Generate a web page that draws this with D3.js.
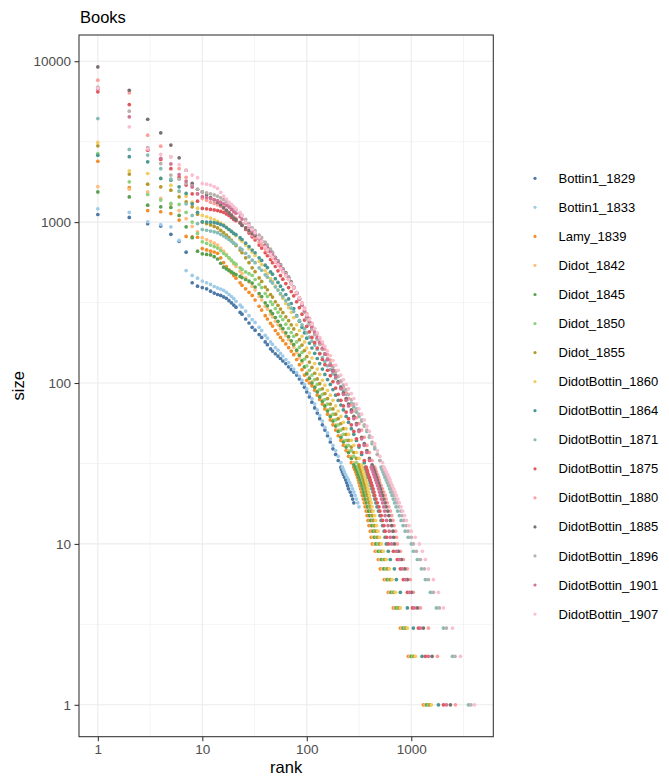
<!DOCTYPE html>
<html>
<head>
<meta charset="utf-8">
<script src="https://cdn.jsdelivr.net/npm/d3@7"></script>
<style>
body { margin: 0; background: #fff; }
svg text { font-family: "Liberation Sans", Arial, sans-serif; }
</style>
</head>
<body>
<svg id="chart" width="669" height="778"></svg>
<script>
// Series names and colours (tableau 20)
var names = ['Bottin1_1829', 'Bottin1_1833', 'Lamy_1839', 'Didot_1842', 'Didot_1845',
    'Didot_1850', 'Didot_1855', 'DidotBottin_1860', 'DidotBottin_1864', 'DidotBottin_1871',
    'DidotBottin_1875', 'DidotBottin_1880', 'DidotBottin_1885', 'DidotBottin_1896',
    'DidotBottin_1901', 'DidotBottin_1907']
var colors = ['#4E79A7', '#A0CBE8', '#F28E2B', '#FFBE7D', '#59A14F', '#8CD17D', '#B6992D',
    '#F1CE63', '#499894', '#86BCB6', '#E15759', '#FF9D9A', '#79706E', '#BAB0AC',
    '#D37295', '#FABFD2']

// ranks at which the body sizes are read
var ranks = [1, 2, 3, 4, 5, 6, 7, 8, 9, 10,
    11, 12, 13, 14, 15, 16, 17, 18, 19, 20,
    21, 23, 24, 26, 28, 30, 32, 35, 37, 40,
    42, 45, 47, 50, 53, 56, 59, 63, 67, 71,
    75, 80, 85, 90, 95, 100, 106, 112, 119, 126,
    133, 141, 149, 158, 168, 178, 189, 200, 212, 224,
    238, 251, 267, 282, 299, 316, 335, 355, 376, 398,
    422, 447, 474, 501, 532, 562, 596, 631]
// the tail: first rank reaching each integer size from 30 down
var tailSizes = [30, 29, 28, 27, 26, 25, 24, 23, 22, 21, 20, 19, 18, 17, 16,
    15, 14, 13, 12, 11, 10, 9, 8, 7, 6, 5, 4, 3, 2, 1]

var bottin1829 = [1115, 1070, 977, 945, 840, 760, 650, 420, 400, 392,
    385, 372, 362, 355, 350, 343, 336, 325, 315, 305,
    296, 275, 268, 250, 236, 222, 213, 200, 192, 180,
    173, 163, 158, 152, 147, 142, 137, 132, 126, 121,
    117, 112, 106, 100, 94, 88, 82, 76, 70, 65,
    60, 55, 51, 47, 43, 39, 36, 33]
var bottin1829Tail = [212, 215, 219, 224, 230, 236, 241, 246, 251, 260, 268, 275, 282]

var bottin1833 = [1210, 1150, 1005, 965, 935, 770, 500, 466, 448, 430,
    420, 410, 398, 390, 384, 377, 366, 355, 345, 335,
    322, 305, 296, 280, 262, 248, 238, 222, 212, 198,
    190, 180, 174, 166, 160, 153, 147, 140, 134, 128,
    122, 116, 110, 104, 98, 92, 86, 80, 74, 68,
    63, 58, 53, 49, 45, 41, 38, 35, 32]
var bottin1833Tail = [219, 224, 229, 235, 242, 251, 258, 266, 274, 282, 290, 299, 307, 316]

var lamy1839 = [2390, 1640, 1180, 1160, 1130, 1030, 815, 810, 805, 685,
    672, 660, 652, 640, 600, 560, 530, 505, 485, 465,
    448, 420, 405, 385, 366, 350, 328, 300, 284, 262,
    250, 235, 226, 212, 202, 192, 184, 175, 166, 158,
    150, 140, 130, 121, 112, 104, 100, 96, 90, 84,
    79, 74, 69, 64, 59, 55, 51, 47, 44, 41,
    38, 35, 32]
var lamy1839Tail = [282, 288, 294, 300, 306, 312, 316, 322, 328, 334, 340, 347, 355, 362, 370,
    378, 386, 394, 405, 414, 424, 453, 484, 505, 552, 603, 674, 786, 938, 1306]

var didot1842 = [1660, 1600, 1540, 1403, 1290, 1180, 1050, 940, 870, 800,
    780, 760, 740, 720, 690, 660, 630, 600, 575, 550,
    530, 495, 478, 450, 424, 400, 378, 345, 328, 300,
    288, 268, 258, 242, 230, 218, 208, 197, 186, 176,
    167, 155, 144, 134, 125, 116, 109, 102, 95, 89,
    83, 78, 73, 68, 63, 59, 55, 51, 47, 44,
    41, 38, 35, 32]
var didot1842Tail = [294, 300, 306, 311, 316, 322, 328, 334, 340, 347, 355, 362, 370, 378, 387,
    398, 406, 414, 422, 431, 441, 469, 501, 526, 571, 622, 695, 811, 967, 1353]

var didot1845 = [1540, 1435, 1275, 1245, 1234, 1100, 935, 800, 660, 635,
    630, 625, 610, 590, 555, 525, 512, 500, 490, 480,
    472, 460, 452, 440, 430, 418, 395, 360, 345, 315,
    302, 280, 270, 255, 242, 228, 218, 205, 194, 183,
    173, 160, 149, 138, 126, 114, 107, 100, 94, 88,
    82, 77, 72, 67, 62, 58, 54, 50, 46, 43,
    40, 37, 34, 31]
var didot1845Tail = [292, 298, 305, 310, 316, 323, 330, 337, 344, 350, 355, 363, 372, 381, 390,
    398, 410, 420, 432, 445, 459, 486, 519, 547, 590, 642, 717, 836, 998, 1402]

var didot1850 = [2670, 1780, 1485, 1370, 1306, 1288, 1150, 1000, 850, 755,
    738, 720, 705, 690, 665, 640, 620, 600, 580, 560,
    548, 520, 508, 490, 478, 466, 440, 410, 392, 360,
    345, 320, 308, 290, 275, 260, 248, 232, 219, 206,
    195, 180, 167, 155, 141, 128, 120, 112, 105, 98,
    91, 85, 79, 74, 69, 64, 59, 55, 51, 48,
    44, 41, 38, 35, 32]
var didot1850Tail = [310, 316, 323, 330, 337, 344, 350, 355, 362, 370, 378, 386, 392, 398, 408,
    418, 428, 438, 447, 462, 477, 503, 538, 569, 610, 662, 739, 863, 1029, 1452]

var didot1855 = [2980, 1990, 1720, 1656, 1580, 1436, 1337, 1245, 1120, 1000,
    980, 960, 940, 920, 890, 860, 830, 800, 770, 740,
    715, 670, 645, 600, 560, 520, 492, 450, 428, 395,
    380, 355, 342, 320, 304, 288, 274, 258, 244, 230,
    217, 200, 186, 172, 159, 146, 135, 125, 115, 106,
    99, 92, 86, 80, 74, 69, 64, 60, 56, 52,
    48, 44, 40, 37, 34, 31]
var didot1855Tail = [322, 328, 334, 340, 346, 351, 355, 362, 369, 376, 383, 390, 398, 406, 415,
    424, 435, 447, 458, 476, 497, 521, 557, 593, 630, 683, 762, 890, 1061, 1504]

var db1860 = [3130, 2080, 2005, 1868, 1697, 1542, 1450, 1330, 1220, 1100,
    1080, 1060, 1035, 1010, 985, 960, 930, 900, 875, 850,
    825, 780, 760, 720, 685, 650, 620, 570, 545, 500,
    478, 445, 428, 400, 378, 355, 336, 312, 294, 275,
    255, 230, 212, 195, 180, 165, 154, 143, 132, 122,
    113, 104, 97, 90, 84, 78, 72, 67, 62, 57,
    52, 48, 44, 41, 37, 34, 31]
var db1860Tail = [340, 345, 350, 355, 362, 368, 374, 380, 386, 392, 398, 406, 414, 422, 432,
    447, 456, 466, 480, 498, 517, 540, 577, 617, 655, 704, 786, 918, 1095, 1559]

var db1864 = [2600, 2550, 2370, 1868, 1823, 1656, 1507, 1300, 1150, 1004,
    1002, 1000, 992, 985, 968, 950, 925, 900, 875, 850,
    835, 800, 780, 740, 705, 670, 645, 600, 578, 540,
    522, 490, 475, 445, 422, 400, 380, 355, 333, 312,
    290, 262, 242, 222, 205, 190, 177, 165, 153, 142,
    132, 122, 113, 105, 98, 91, 84, 78, 73, 68,
    62, 57, 52, 48, 44, 40, 36, 32]
var db1864Tail = [365, 370, 376, 382, 388, 398, 405, 412, 420, 430, 440, 447, 458, 470, 485,
    501, 515, 532, 550, 562, 577, 603, 630, 689, 720, 786, 918, 1047, 1269, 1819]

var db1871 = [4400, 2830, 2610, 2150, 1850, 1560, 1300, 1100, 980, 900,
    890, 880, 870, 860, 840, 820, 800, 780, 760, 740,
    725, 690, 675, 640, 610, 580, 560, 520, 502, 470,
    455, 430, 418, 395, 378, 360, 344, 325, 308, 292,
    278, 260, 245, 230, 217, 205, 193, 182, 172, 162,
    153, 144, 136, 128, 121, 114, 107, 101, 95, 90,
    85, 80, 75, 71, 66, 62, 58, 54, 50, 46,
    42, 39, 36, 33]
var db1871Tail = [515, 525, 536, 548, 560, 575, 590, 605, 620, 636, 655, 672, 692, 715, 740,
    770, 800, 835, 875, 935, 1002, 1047, 1144, 1250, 1365, 1525, 1741, 2032, 2478, 3528]

var db1875 = [6450, 5380, 2800, 2450, 2150, 1900, 1700, 1500, 1350, 1217,
    1210, 1200, 1190, 1180, 1165, 1150, 1125, 1100, 1070, 1040,
    1020, 990, 955, 900, 855, 810, 775, 720, 690, 645,
    618, 585, 560, 530, 498, 465, 442, 415, 392, 370,
    348, 320, 294, 268, 246, 225, 208, 192, 178, 165,
    152, 140, 130, 120, 111, 102, 93, 85, 78, 72,
    66, 60, 55, 50, 45, 41, 37, 33]
var db1875Tail = [370, 376, 382, 388, 398, 405, 414, 422, 432, 440, 447, 460, 474, 490, 501,
    515, 532, 548, 562, 582, 603, 674, 736, 786, 840, 918, 1024, 1170, 1365, 2032]

var db1880 = [7620, 6360, 3470, 2965, 2545, 2150, 1900, 1700, 1500, 1400,
    1365, 1330, 1305, 1280, 1250, 1220, 1185, 1150, 1115, 1080,
    1055, 1000, 975, 920, 875, 830, 800, 750, 722, 680,
    658, 620, 600, 565, 540, 515, 492, 465, 440, 415,
    392, 365, 340, 315, 292, 270, 252, 235, 218, 203,
    189, 175, 162, 150, 139, 128, 119, 110, 102, 94,
    87, 80, 73, 67, 61, 56, 51, 46, 41, 37,
    33]
var db1880Tail = [447, 455, 464, 474, 485, 494, 501, 515, 530, 546, 562, 575, 590, 610, 631,
    650, 668, 685, 708, 722, 736, 786, 840, 918, 980, 1047, 1223, 1459, 1780, 2648]

var db1885 = [9220, 6600, 4360, 3590, 3010, 2510, 2100, 1740, 1600, 1540,
    1480, 1420, 1375, 1330, 1280, 1230, 1185, 1140, 1100, 1060,
    1035, 990, 955, 920, 885, 850, 825, 790, 760, 720,
    695, 660, 635, 605, 575, 545, 515, 485, 455, 425,
    395, 365, 335, 305, 280, 255, 237, 220, 205, 190,
    176, 163, 151, 140, 130, 120, 111, 102, 94, 87,
    80, 74, 68, 62, 56, 51, 46, 42, 38, 34,
    31]
var db1885Tail = [430, 438, 447, 455, 464, 474, 485, 496, 508, 520, 532, 545, 562, 575, 596,
    610, 631, 650, 668, 678, 689, 752, 804, 868, 918, 1002, 1144, 1306, 1583, 2371]

var db1896 = [6900, 4890, 2910, 2310, 1960, 1850, 1740, 1680, 1600, 1540,
    1520, 1500, 1475, 1450, 1415, 1380, 1340, 1300, 1260, 1220,
    1190, 1130, 1100, 1040, 980, 920, 885, 830, 800, 750,
    722, 680, 650, 600, 570, 540, 512, 480, 450, 420,
    392, 360, 335, 305, 275, 250, 232, 215, 200, 186,
    174, 162, 152, 142, 133, 125, 117, 110, 103, 97,
    91, 85, 79, 74, 69, 64, 59, 55, 51, 47,
    43, 40, 36, 33]
var db1896Tail = [532, 545, 556, 568, 585, 600, 615, 631, 648, 668, 688, 708, 730, 760, 794,
    820, 850, 891, 935, 1000, 1047, 1119, 1223, 1335, 1459, 1629, 1860, 2171, 2618, 3727]

var db1901 = [6700, 4510, 2840, 2490, 2300, 1977, 1800, 1650, 1500, 1440,
    1420, 1400, 1380, 1360, 1330, 1300, 1270, 1240, 1200, 1160,
    1135, 1080, 1045, 990, 935, 880, 845, 790, 760, 710,
    685, 645, 622, 590, 560, 530, 502, 470, 442, 415,
    390, 360, 332, 305, 282, 260, 242, 225, 208, 193,
    179, 165, 152, 140, 129, 118, 109, 100, 92, 85,
    78, 72, 66, 60, 55, 50, 45, 41, 37, 33]
var db1901Tail = [415, 422, 430, 438, 447, 456, 466, 476, 486, 496, 506, 518, 532, 545, 556,
    562, 580, 600, 615, 630, 645, 720, 769, 821, 878, 959, 1071, 1223, 1459, 2171]

var db1907 = [6800, 3910, 2850, 2640, 2545, 2275, 2100, 1960, 1890, 1740,
    1720, 1700, 1660, 1620, 1530, 1450, 1390, 1330, 1290, 1250,
    1210, 1150, 1100, 1000, 950, 900, 860, 800, 760, 700,
    672, 630, 605, 570, 542, 515, 492, 465, 440, 415,
    392, 365, 338, 312, 288, 265, 248, 232, 218, 205,
    192, 180, 169, 158, 148, 138, 129, 120, 112, 105,
    98, 92, 86, 80, 74, 69, 64, 59, 54, 50,
    46, 42, 38, 35, 32]
var db1907Tail = [550, 562, 578, 594, 610, 626, 640, 660, 680, 700, 720, 745, 770, 800, 830,
    865, 900, 950, 1000, 1090, 1196, 1278, 1365, 1459, 1629, 1819, 2032, 2478, 2957, 4027]

var series = [[bottin1829, bottin1829Tail], [bottin1833, bottin1833Tail],
    [lamy1839, lamy1839Tail], [didot1842, didot1842Tail], [didot1845, didot1845Tail],
    [didot1850, didot1850Tail], [didot1855, didot1855Tail], [db1860, db1860Tail],
    [db1864, db1864Tail], [db1871, db1871Tail], [db1875, db1875Tail], [db1880, db1880Tail],
    [db1885, db1885Tail], [db1896, db1896Tail], [db1901, db1901Tail], [db1907, db1907Tail]]

var xTicks = [1, 10, 100, 1000]
var yTicks = [1, 10, 100, 1000, 10000]

// Flatten into (rank, size) points
var points = []
series.forEach(function(s, i){
    s[0].forEach(function(v, j){ points.push({rank: ranks[j], size: v, k: i}) })
    s[1].forEach(function(r, j){ points.push({rank: r, size: tailSizes[j], k: i}) })
})

// ggplot style 5% expansion in log space
function logExpand(ext){
    var a = Math.log10(ext[0]), b = Math.log10(ext[1]), d = (b - a) * 0.05
    return [Math.pow(10, a - d), Math.pow(10, b + d)]
}

var panel = {left: 79, top: 35, right: 493.3, bottom: 736.7}
var x = d3.scaleLog()
    .domain(logExpand(d3.extent(points, function(d){ return d.rank })))
    .range([panel.left, panel.right])
var y = d3.scaleLog()
    .domain(logExpand(d3.extent(points, function(d){ return d.size })))
    .range([panel.bottom, panel.top])

var svg = d3.select('#chart')

// Grid: minor lines halfway between decades, then major
var minor = [Math.sqrt(10), Math.sqrt(1000), Math.sqrt(100000), Math.sqrt(10000000)]
var grid = svg.append('g')
grid.selectAll('.xminor').data(minor.filter(function(v){ return x(v) < panel.right }))
    .enter().append('line')
    .attr('x1', function(d){ return x(d) }).attr('x2', function(d){ return x(d) })
    .attr('y1', panel.top).attr('y2', panel.bottom)
    .attr('stroke', '#EBEBEB').attr('stroke-width', 0.55)
grid.selectAll('.yminor').data(minor.filter(function(v){ return y(v) > panel.top }))
    .enter().append('line')
    .attr('y1', function(d){ return y(d) }).attr('y2', function(d){ return y(d) })
    .attr('x1', panel.left).attr('x2', panel.right)
    .attr('stroke', '#EBEBEB').attr('stroke-width', 0.55)
grid.selectAll('.xmajor').data(xTicks).enter().append('line')
    .attr('x1', function(d){ return x(d) }).attr('x2', function(d){ return x(d) })
    .attr('y1', panel.top).attr('y2', panel.bottom)
    .attr('stroke', '#EBEBEB').attr('stroke-width', 1.1)
grid.selectAll('.ymajor').data(yTicks).enter().append('line')
    .attr('y1', function(d){ return y(d) }).attr('y2', function(d){ return y(d) })
    .attr('x1', panel.left).attr('x2', panel.right)
    .attr('stroke', '#EBEBEB').attr('stroke-width', 1.1)

// Points
svg.append('g').selectAll('circle').data(points).enter().append('circle')
    .attr('cx', function(d){ return x(d.rank) })
    .attr('cy', function(d){ return y(d.size) })
    .attr('r', 1.85)
    .attr('fill', function(d){ return colors[d.k] })

// Panel border
svg.append('rect')
    .attr('x', panel.left).attr('y', panel.top)
    .attr('width', panel.right - panel.left).attr('height', panel.bottom - panel.top)
    .attr('fill', 'none').attr('stroke', '#333333').attr('stroke-width', 1.07)

// Axes
var xAxis = svg.append('g')
    .attr('transform', 'translate(0,' + panel.bottom + ')')
    .call(d3.axisBottom(x).tickValues(xTicks).tickFormat(d3.format('d')).tickSize(4.5).tickPadding(3.5))
var yAxis = svg.append('g')
    .attr('transform', 'translate(' + panel.left + ',0)')
    .call(d3.axisLeft(y).tickValues(yTicks).tickFormat(d3.format('d')).tickSize(4.5).tickPadding(3.5))
;[xAxis, yAxis].forEach(function(a){
    a.select('.domain').remove()
    a.selectAll('.tick line').attr('stroke', '#333333').attr('stroke-width', 1.07)
    a.selectAll('.tick text').attr('fill', '#4D4D4D')
        .style('font-size', '13.5px').style('font-family', '"Liberation Sans", Arial, sans-serif')
})

// Titles
svg.append('text').attr('x', 80).attr('y', 22.5)
    .style('font-size', '16.5px').attr('fill', '#000').text('Books')
svg.append('text').attr('x', (panel.left + panel.right) / 2).attr('y', 773)
    .attr('text-anchor', 'middle').style('font-size', '16.5px').attr('fill', '#000').text('rank')
svg.append('text')
    .attr('transform', 'translate(24,' + (panel.top + panel.bottom) / 2 + ') rotate(-90)')
    .attr('text-anchor', 'middle').style('font-size', '16.5px').attr('fill', '#000').text('size')

// Legend
var legend = svg.append('g').selectAll('g').data(names).enter().append('g')
    .attr('transform', function(d, i){ return 'translate(535,' + (178.3 + i * 29.05) + ')' })
legend.append('circle').attr('r', 1.6)
    .attr('fill', function(d, i){ return colors[i] })
legend.append('text').attr('x', 23.5).attr('dy', '0.35em')
    .style('font-size', '13px').attr('fill', '#000')
    .text(function(d){ return d })
</script>
</body>
</html>
